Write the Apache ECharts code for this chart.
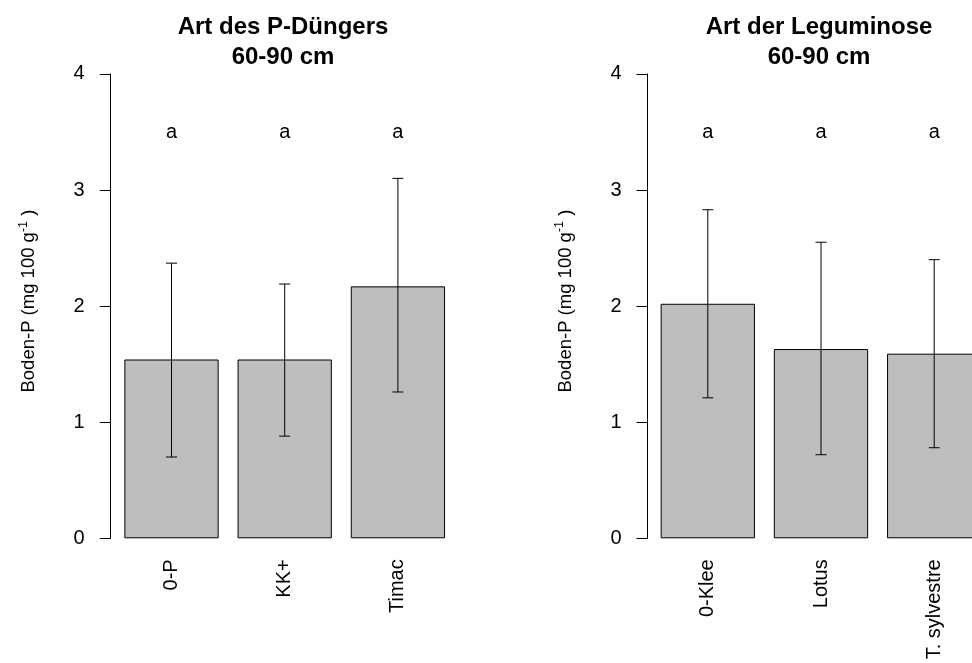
<!DOCTYPE html>
<html><head><meta charset="utf-8">
<script src="https://cdn.jsdelivr.net/npm/echarts@6/dist/echarts.min.js"></script>
<style>html,body{margin:0;padding:0;background:#fff}#c{width:972px;height:663px}</style>
</head><body><div id="c"></div>
<script>
// ---- data ----
const catsP = ['0-P', 'KK+', 'Timac'];
const meanP = [1.54, 1.54, 2.17];
const lowP = [0.70, 0.88, 1.26];
const highP = [2.37, 2.19, 3.10];
const lettersP = ['a', 'a', 'a'];

const catsL = ['0-Klee', 'Lotus', 'T. sylvestre'];
const meanL = [2.02, 1.63, 1.59];
const lowL = [1.21, 0.72, 0.78];
const highL = [2.83, 2.55, 2.40];
const lettersL = ['a', 'a', 'a'];

const letterY = 3.5;
const yMin = 0, yMax = 4, yStep = 1;
const titleP = 'Art des P-Düngers\n60-90 cm';
const titleL = 'Art der Leguminose\n60-90 cm';
const yName = 'Boden-P (mg 100 g{sup|-1} )';

// ---- chart ----
const FONT = 'Liberation Sans, Arial, sans-serif';
const chart = echarts.init(document.getElementById('c'), null, {renderer: 'canvas'});

function errItem(params, api) {
  const i = api.value(0);
  const lo = api.coord([i, api.value(1)]);
  const hi = api.coord([i, api.value(2)]);
  const hw = 5.5;
  const st = {stroke: '#000', lineWidth: 1};
  return {type: 'group', children: [
    {type: 'line', shape: {x1: lo[0], y1: lo[1], x2: hi[0], y2: hi[1]}, style: st},
    {type: 'line', shape: {x1: lo[0] - hw, y1: lo[1], x2: lo[0] + hw, y2: lo[1]}, style: st},
    {type: 'line', shape: {x1: hi[0] - hw, y1: hi[1], x2: hi[0] + hw, y2: hi[1]}, style: st}
  ]};
}
function letterItem(params, api) {
  const p = api.coord([api.value(0), api.value(1)]);
  return {type: 'text', x: p[0], y: p[1] + 1, style: {
    text: api.value(2), fill: '#000', font: '20px ' + FONT, align: 'center', verticalAlign: 'middle'}};
}

function yAxisDef(gi, offset) {
  return {
    type: 'value', gridIndex: gi, min: yMin, max: yMax, interval: yStep, offset: offset,
    axisLine: {show: true, lineStyle: {color: '#000', width: 1}},
    axisTick: {show: true, length: 11, lineStyle: {color: '#000', width: 1}},
    axisLabel: {color: '#000', fontSize: 20, fontFamily: FONT, margin: 26},
    splitLine: {show: false},
    name: yName, nameLocation: 'middle', nameGap: 69,
    nameTextStyle: {color: '#000', fontSize: 18.5, fontFamily: FONT, padding: [0, 0, 0, 10],
      rich: {sup: {fontSize: 12.5, fontFamily: FONT, color: '#000', padding: [0, 0, 12, 0]}}}
  };
}
function xAxisDef(gi, cats) {
  return {
    type: 'category', gridIndex: gi, data: cats,
    axisLine: {show: false}, axisTick: {show: false},
    axisLabel: {color: '#000', fontSize: 20, fontFamily: FONT, rotate: 90, margin: 21, interval: 0}
  };
}
function seriesFor(ai, cats, mean, low, high, letters) {
  return [
    {type: 'bar', xAxisIndex: ai, yAxisIndex: ai, data: mean, barWidth: '83.3%',
      itemStyle: {color: '#BEBEBE', borderColor: '#000', borderWidth: 1}, silent: true},
    {type: 'custom', xAxisIndex: ai, yAxisIndex: ai, renderItem: errItem,
      data: cats.map((c, i) => [i, low[i], high[i]]), z: 5, silent: true},
    {type: 'custom', xAxisIndex: ai, yAxisIndex: ai, renderItem: letterItem,
      data: cats.map((c, i) => [i, letterY, letters[i]]), z: 5, silent: true}
  ];
}

chart.setOption({
  animation: false,
  backgroundColor: '#fff',
  title: [
    {text: titleP, left: 278, top: 7, textAlign: 'center',
      textStyle: {fontSize: 24, fontWeight: 'bold', fontFamily: FONT, color: '#000', lineHeight: 30}},
    {text: titleL, left: 814, top: 7, textAlign: 'center',
      textStyle: {fontSize: 24, fontWeight: 'bold', fontFamily: FONT, color: '#000', lineHeight: 30}}
  ],
  grid: [
    {left: 114.9, top: 73.9, width: 339.6, height: 464.4, outerBoundsMode: 'none', containLabel: false},
    {left: 651.2, top: 73.9, width: 339.6, height: 464.4, outerBoundsMode: 'none', containLabel: false}
  ],
  xAxis: [xAxisDef(0, catsP), xAxisDef(1, catsL)],
  yAxis: [yAxisDef(0, 4.2), yAxisDef(1, 3.7)],
  series: [].concat(
    seriesFor(0, catsP, meanP, lowP, highP, lettersP),
    seriesFor(1, catsL, meanL, lowL, highL, lettersL)
  )
});
</script></body></html>
